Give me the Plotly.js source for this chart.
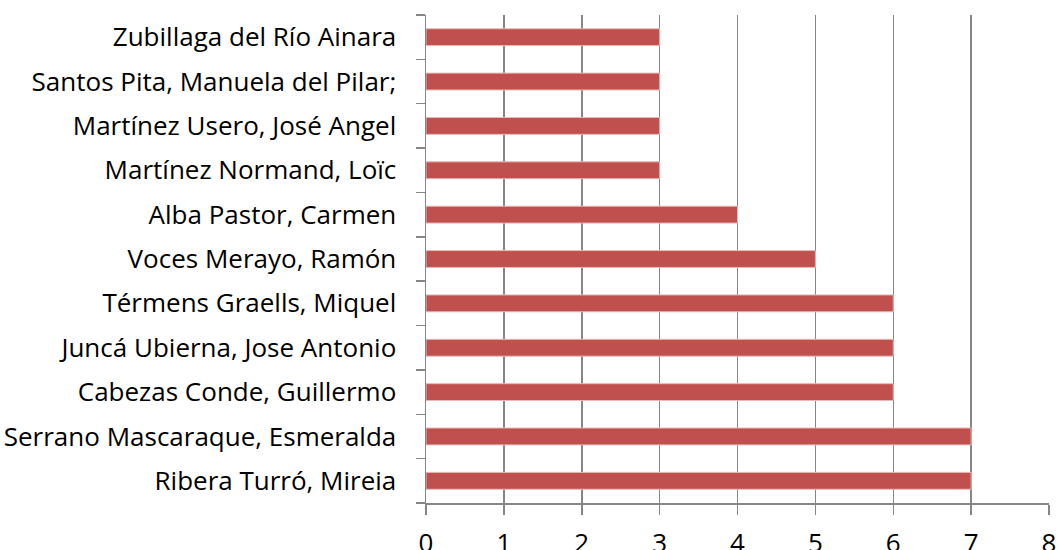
<!DOCTYPE html>
<html><head><meta charset="utf-8">
<script src="https://cdn.plot.ly/plotly-3.0.1.min.js"></script>
<style>html,body{margin:0;padding:0;background:#fff}</style>
</head><body><div id="chart" style="width:1058px;height:550px"></div>
<script>
const names = ["Ribera Turró, Mireia","Serrano Mascaraque, Esmeralda","Cabezas Conde, Guillermo","Juncá Ubierna, Jose Antonio","Térmens Graells, Miquel","Voces Merayo, Ramón","Alba Pastor, Carmen","Martínez Normand, Loïc","Martínez Usero, José Angel","Santos Pita, Manuela del Pilar;","Zubillaga del Río Ainara"];
const counts = [7,7,6,6,6,5,4,3,3,3,3];
const xTicks = [0,1,2,3,4,5,6,7,8];

Plotly.newPlot('chart', [{
  type:'bar', orientation:'h', y:names, x:counts,
  marker:{color:'#C0504D', line:{color:'#E6B9B8', width:1}},
  hoverinfo:'none'
}], {
  width:1058, height:550,
  margin:{l:426, r:9, t:15, b:47},
  bargap:0.62,
  paper_bgcolor:'#fff', plot_bgcolor:'#fff',
  font:{family:'Open Sans, sans-serif', size:26, color:'#000'},
  showlegend:false,
  xaxis:{range:[0,8], tickvals:xTicks, ticktext:xTicks.map(String), showgrid:true, gridcolor:'#868686', gridwidth:1.5,
    showline:true, linecolor:'#868686', linewidth:1.5, ticks:'outside', ticklen:10, tickwidth:1.5, tickcolor:'#868686',
    zeroline:false, ticklabelstandoff:6, fixedrange:true},
  yaxis:{type:'category', categoryorder:'array', categoryarray:names, range:[-0.5,10.5], showgrid:false,
    showline:true, linecolor:'#868686', linewidth:1.5, ticks:'outside', ticklen:9, tickwidth:1.5, tickcolor:'#868686',
    tickson:'boundaries', ticklabelstandoff:23, zeroline:false, fixedrange:true}
}, {staticPlot:true, displayModeBar:false});
</script></body></html>
